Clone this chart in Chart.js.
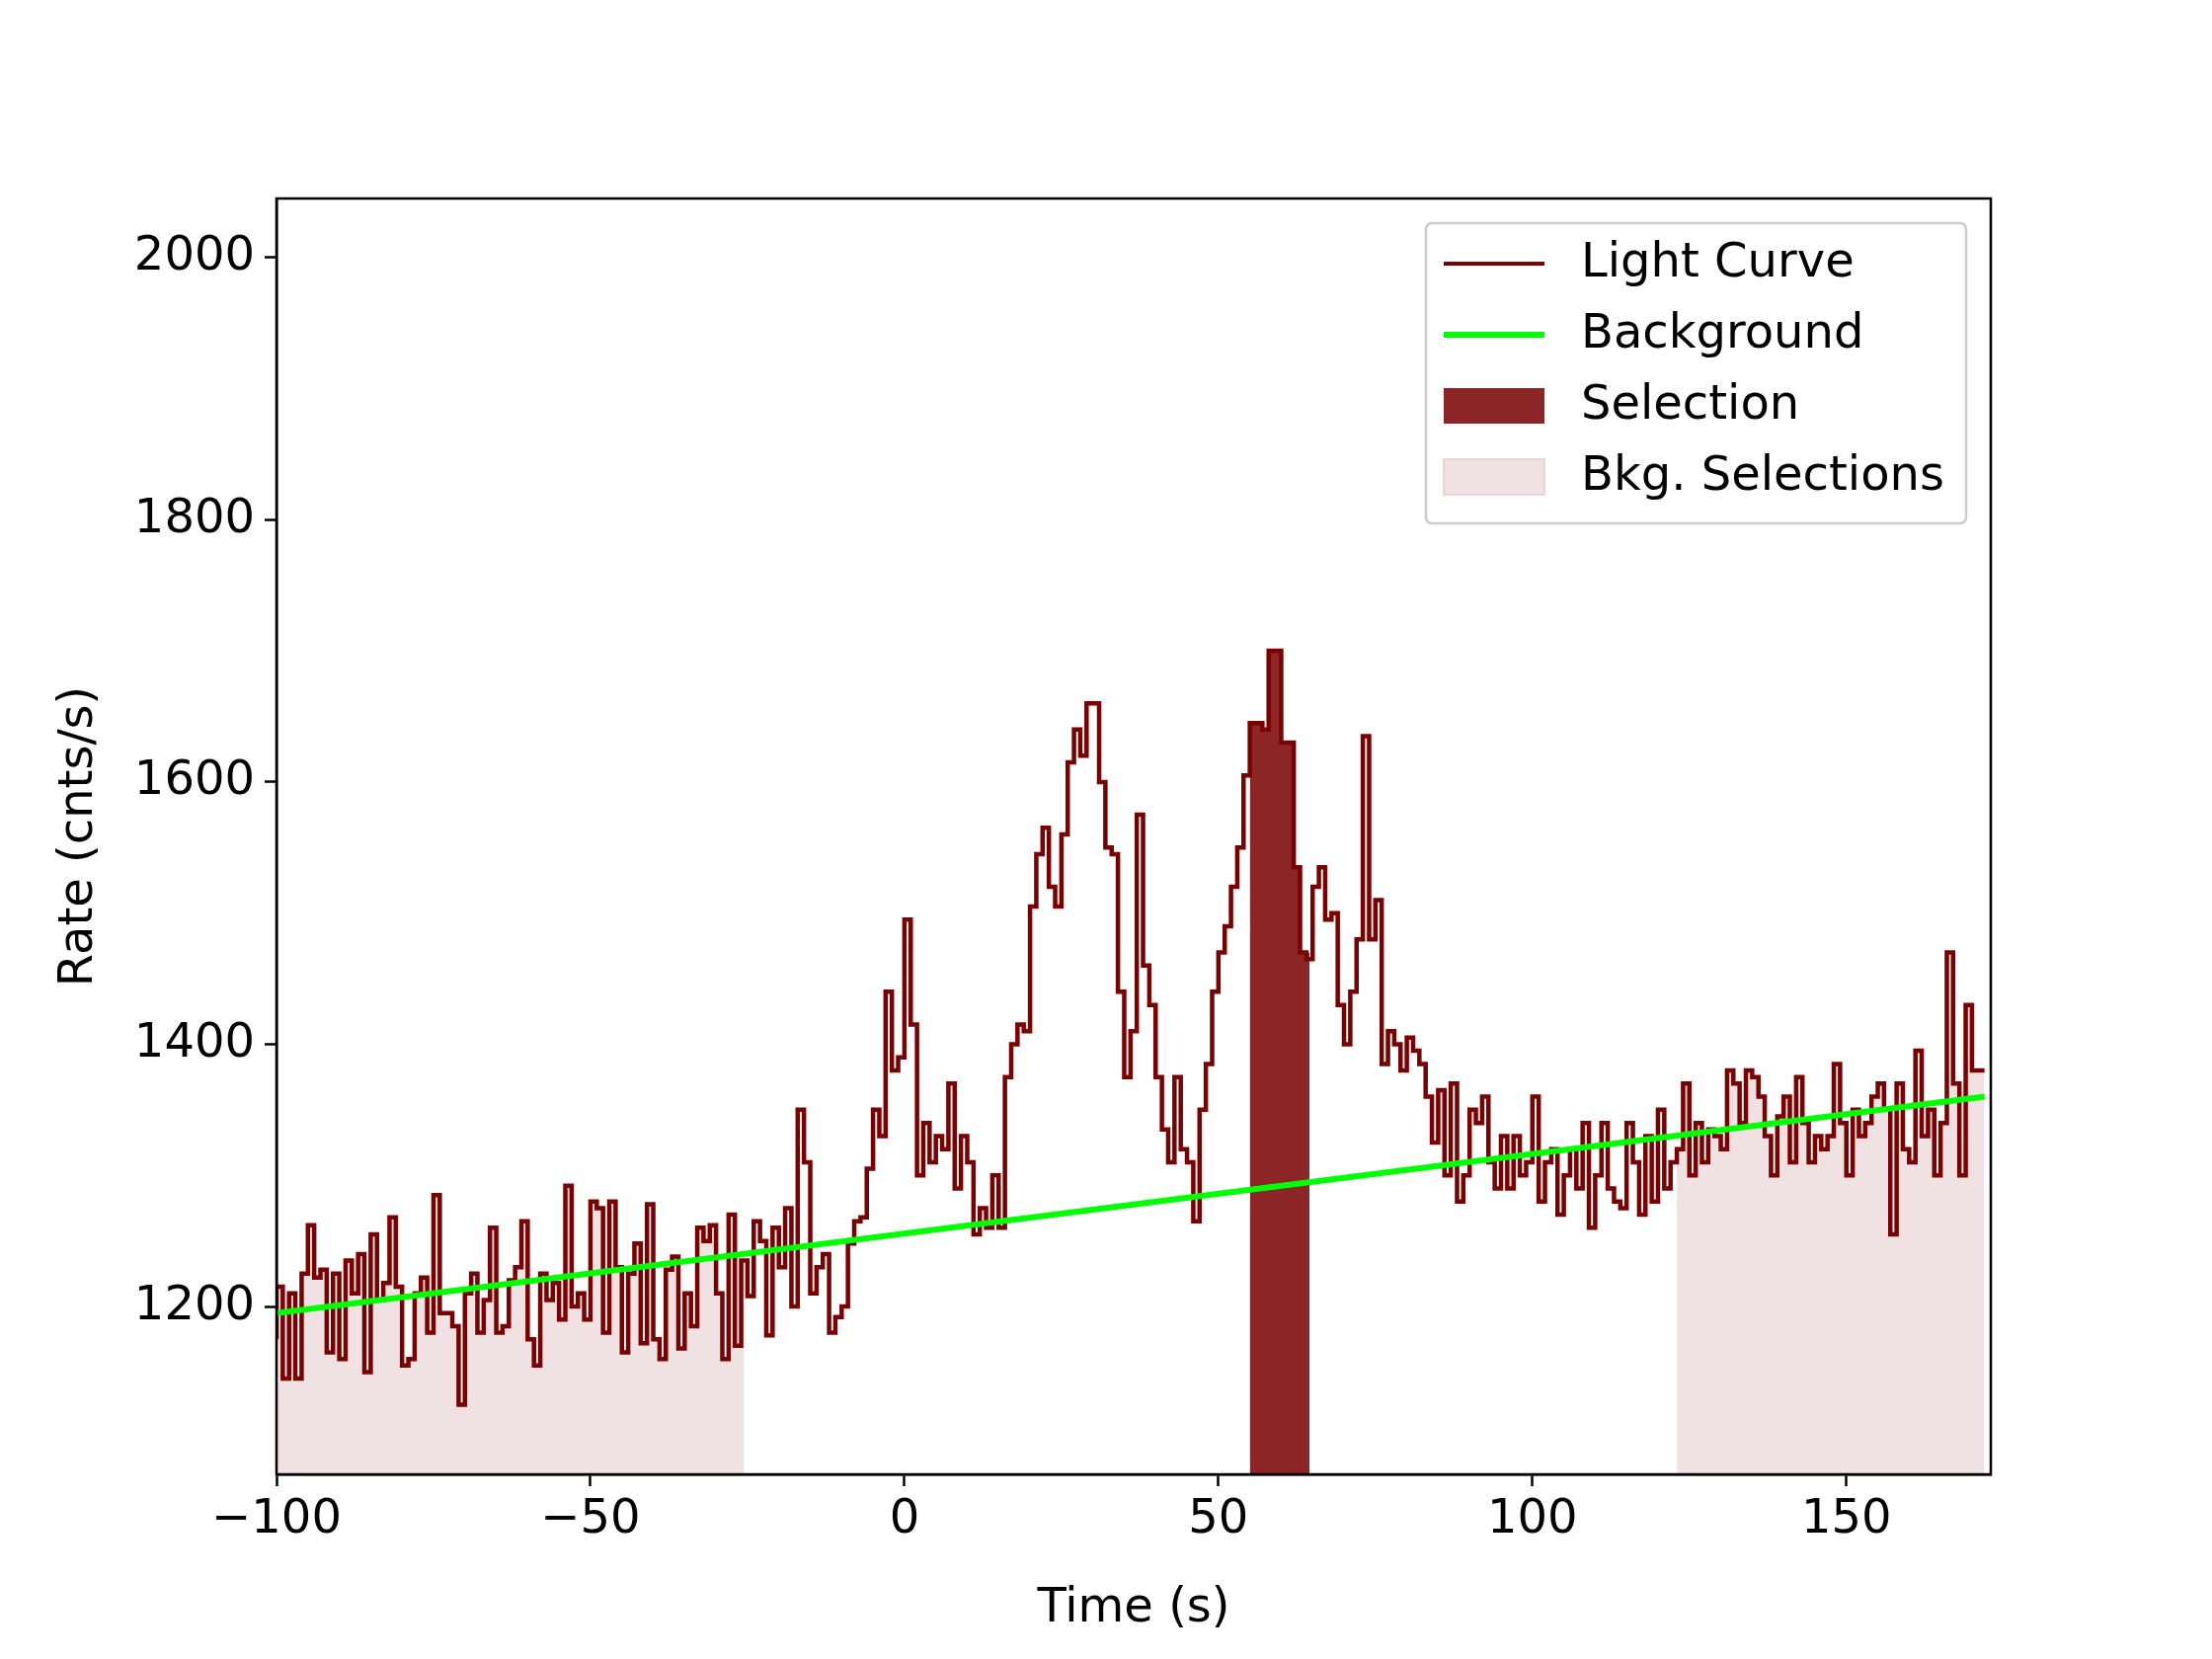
<!DOCTYPE html>
<html><head><meta charset="utf-8">
<script src="https://cdn.jsdelivr.net/npm/chart.js@4"></script>
<style>body{margin:0;background:#fff}canvas{display:block}</style>
</head><body>
<canvas id="c" width="2240" height="1680"></canvas>
<script>
const binStart = -100;
const binWidth = 1.0;
const rates = [
1175,1215,1145,1210,1145,1225,1262,1222,1228,1165,
1225,1160,1235,1210,1240,1150,1255,1205,1218,1268,
1215,1155,1160,1210,1222,1180,1285,1195,1195,1185,
1125,1210,1225,1180,1205,1260,1180,1185,1220,1230,
1265,1175,1155,1225,1205,1218,1190,1292,1200,1210,
1190,1280,1275,1180,1280,1230,1165,1225,1248,1172,
1278,1175,1160,1228,1238,1168,1210,1185,1260,1250,
1262,1210,1160,1270,1170,1235,1208,1265,1250,1178,
1260,1230,1275,1200,1350,1310,1210,1230,1240,1180,
1192,1200,1248,1265,1268,1305,1350,1330,1440,1380,
1390,1495,1415,1300,1340,1310,1330,1320,1370,1290,
1330,1310,1255,1275,1260,1300,1260,1375,1400,1415,
1410,1505,1545,1565,1520,1505,1560,1615,1640,1620,
1660,1660,1600,1550,1545,1440,1375,1410,1575,1460,
1430,1375,1335,1310,1375,1320,1310,1265,1350,1385,
1440,1470,1490,1520,1550,1605,1645,1645,1640,1700,
1700,1630,1630,1535,1470,1465,1520,1535,1495,1500,
1430,1400,1440,1480,1635,1480,1510,1385,1410,1400,
1380,1405,1395,1385,1360,1325,1365,1300,1370,1280,
1300,1350,1340,1360,1310,1290,1330,1290,1330,1300,
1310,1360,1280,1310,1320,1270,1300,1320,1290,1340,
1260,1300,1340,1290,1280,1275,1340,1310,1270,1330,
1280,1350,1290,1310,1320,1370,1300,1340,1310,1335,
1330,1320,1380,1370,1340,1380,1375,1360,1330,1300,
1345,1360,1310,1375,1340,1310,1330,1320,1330,1385,
1340,1300,1350,1330,1340,1360,1370,1350,1255,1370,
1320,1310,1395,1330,1350,1300,1340,1470,1370,1300,1430,1380
];
const bkgLine = [[-100,1195],[172,1360]];
const selection = [55,64.5];
const bkgSelections = [[-100,-25.5],[123,172]];
const xTicks = [-100,-50,0,50,100,150];
const yTicks = [1200,1400,1600,1800,2000];

const curve = rates.map((v,i)=>({x:binStart+i*binWidth,y:v}));
const tEnd = binStart+rates.length*binWidth;
curve.push({x:tEnd,y:rates[rates.length-1]});
function valAt(t){let i=Math.floor((t-binStart)/binWidth);i=Math.max(0,Math.min(rates.length-1,i));return rates[i];}
function segment(a,b){
  const pts=[{x:a,y:valAt(a)}];
  for(const p of curve){ if(p.x>a && p.x<b) pts.push(p); }
  pts.push({x:b,y:valAt(b-1e-6)});
  return pts;
}
const ds = [];
bkgSelections.forEach((s,k)=>ds.push({label:'bkg'+k,data:segment(s[0],s[1]),stepped:'after',borderWidth:0,pointRadius:0,fill:'start',backgroundColor:'rgba(240,226,226,1)',borderColor:'rgba(0,0,0,0)',order:5}));
ds.push({label:'sel',data:segment(selection[0],selection[1]),stepped:'after',borderWidth:0,pointRadius:0,fill:'start',backgroundColor:'#8b2526',borderColor:'rgba(0,0,0,0)',order:4});
ds.push({label:'Light Curve',data:curve,stepped:'after',borderWidth:4.5,pointRadius:0,borderColor:'#7b0000',fill:false,order:3});
ds.push({label:'Background',data:bkgLine.map(p=>({x:p[0],y:p[1]})),borderWidth:6,pointRadius:0,borderColor:'#00ff00',fill:false,order:1});

const frame = {id:'frame',afterDraw(c){const a=c.chartArea,x=c.ctx;x.save();x.strokeStyle='#000';x.lineWidth=2.5;x.strokeRect(a.left,a.top,a.right-a.left,a.bottom-a.top);
  const L=1444,T=226,W=547,H=304;x.fillStyle='rgba(255,255,255,0.85)';x.strokeStyle='#cccccc';x.lineWidth=2.5;
  x.beginPath();x.roundRect(L,T,W,H,6);x.fill();x.stroke();
  x.font='48px "DejaVu Sans"';x.textBaseline='middle';x.fillStyle='#000';
  const items=[['Light Curve','line','#7b0000',4],['Background','line','#00ff00',6],['Selection','box','#8b2526'],['Bkg. Selections','box','rgba(240,226,226,1)']];
  items.forEach((it,i)=>{const cy=T+41+i*72;
    if(it[1]=='line'){x.strokeStyle=it[2];x.lineWidth=it[3];x.beginPath();x.moveTo(L+18,cy);x.lineTo(L+120,cy);x.stroke();}
    else{x.fillStyle=it[2];x.fillRect(L+18,cy-18,102,36);if(i==3){x.strokeStyle='#e6cccc';x.lineWidth=1.5;x.strokeRect(L+18,cy-18,102,36);}}
    x.fillStyle='#000';x.fillText(it[0],L+157,cy+1);});
  x.restore();}};

const F = {family:'DejaVu Sans',size:48};
new Chart(document.getElementById('c'),{type:'line',data:{datasets:ds},
 options:{responsive:false,animation:false,devicePixelRatio:1,
  layout:{padding:{left:0,top:201,right:224,bottom:0}},
  plugins:{legend:{display:false},tooltip:{enabled:false}},
  scales:{
   x:{type:'linear',min:-100,max:173,
      afterBuildTicks:s=>{s.ticks=xTicks.map(v=>({value:v}));},
      afterFit:s=>{s.height=187;},
      ticks:{font:F,color:'#000',padding:6,maxRotation:0,callback:v=>String(v).replace('-','\u2212')},
      grid:{drawOnChartArea:false,drawTicks:true,tickLength:12,color:'#000',tickWidth:2.5},
      border:{display:true,color:'#000',width:2.5},
      title:{display:true,text:'Time (s)',font:F,color:'#000',padding:{top:0,bottom:22}}},
   y:{type:'linear',min:1072,max:2045,
      afterBuildTicks:s=>{s.ticks=yTicks.map(v=>({value:v}));},
      afterFit:s=>{s.width=280;},
      ticks:{font:F,color:'#000',padding:10,callback:v=>String(v)},
      grid:{drawOnChartArea:false,drawTicks:true,tickLength:12,color:'#000',tickWidth:2.5},
      border:{display:true,color:'#000',width:2.5},
      title:{display:true,text:'Rate (cnts/s)',font:F,color:'#000',padding:{top:52,bottom:0}}}
  }},plugins:[frame]});
</script></body></html>
